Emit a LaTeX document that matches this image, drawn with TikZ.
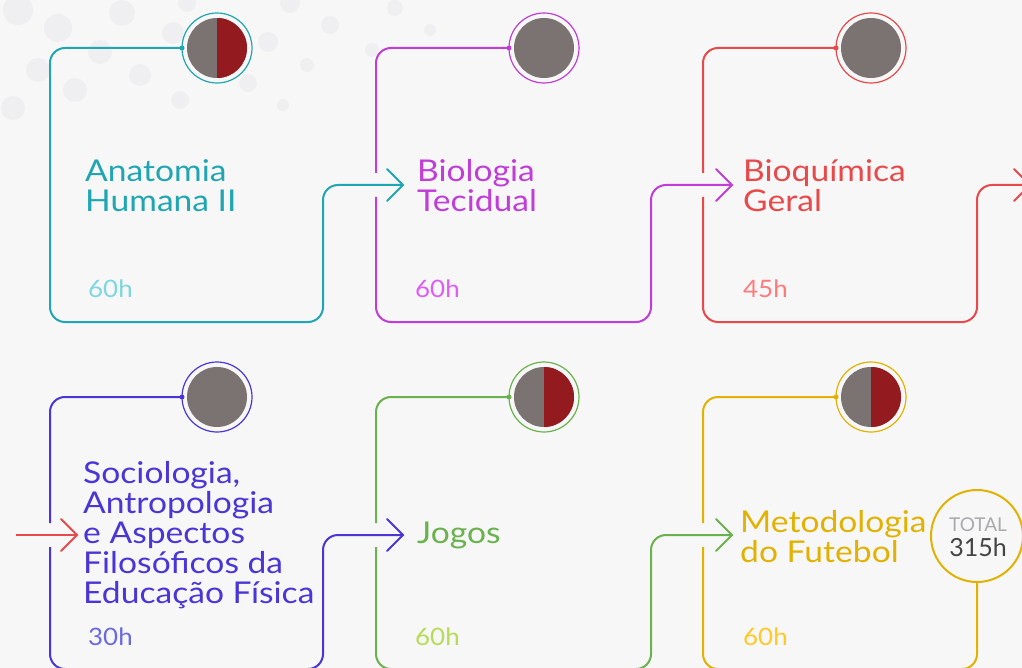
\documentclass[tikz,border=0pt]{standalone}
\usepackage{fontspec}
\setmainfont{Lato}
\newfontfamily\widefont[FakeStretch=1.12]{Lato}
\newfontfamily\hfont[FakeStretch=1.08]{Lato}
\usetikzlibrary{calc}
\definecolor{bg}{HTML}{F7F7F7}
\definecolor{dotc}{HTML}{EFEFF1}
\definecolor{cteal}{HTML}{1FA6B2}
\definecolor{lteal}{HTML}{7ED6E0}
\definecolor{cmag}{HTML}{C13DD8}
\definecolor{lmag}{HTML}{DE5EF5}
\definecolor{cred}{HTML}{E8494B}
\definecolor{lred}{HTML}{FF7B7B}
\definecolor{cind}{HTML}{4A36D6}
\definecolor{lind}{HTML}{6B6BE0}
\definecolor{cgreen}{HTML}{6AB24E}
\definecolor{lgreen}{HTML}{B6DC55}
\definecolor{cgold}{HTML}{E2B203}
\definecolor{lgold}{HTML}{FFC926}
\definecolor{dgray}{HTML}{7B7372}
\definecolor{dred}{HTML}{931A1F}
\definecolor{totgray}{HTML}{AAAAAE}
\definecolor{totdark}{HTML}{444444}
\tikzset{
  conn/.style={line width=2pt, rounded corners=15pt},
  chev/.style={line width=2pt, line cap=round, line join=miter},
  ring/.style={circle, draw, line width=1.2pt, minimum size=70pt, inner sep=0pt, outer sep=0pt},
  title/.style={anchor=base west, inner sep=0pt, align=left, font=\widefont\fontsize{30}{30}\selectfont},
  hours/.style={anchor=base west, inner sep=0pt, font=\hfont\fontsize{24}{24}\selectfont},
  jdot/.style={circle, fill, inner sep=0pt, minimum size=5pt},
}
\newcommand{\fulldisk}[1]{\fill[dgray] (#1.center) circle (30pt);}
\newcommand{\halfdisk}[1]{\fill[dgray] (#1.center) circle (30pt);
  \fill[dred] ($(#1.center)+(0pt,-30pt)$) arc[start angle=-90, end angle=90, radius=30pt] -- cycle;}
\begin{document}
\begin{tikzpicture}[x=1pt,y=-1pt]
\useasboundingbox (0,0) rectangle (1022,668);
\fill[bg] (0,0) rectangle (1022,668);
% faint background dots
\foreach \px/\py/\r in {18/10/15, 58/28/14, 122/13/13, 38/70/12, 100/52/12, 75/90/12, 140/75/11, 13/108/12, 173/33/11, 180/100/9, 248/83/9, 268/42/10, 307/65/7, 283/105/6, 330/25/9, 290/3/10, 187/3/9, 395/8/8, 430/30/6, 372/50/7}
  \fill[dotc] (\px,\py) circle (\r pt);

% circles
\node[ring, draw=cteal] (c1) at (217,48) {};
\node[ring, draw=cmag] (c2) at (544,48) {};
\node[ring, draw=cred] (c3) at (871,48) {};
\node[ring, draw=cind] (c4) at (217,397) {};
\node[ring, draw=cgreen] (c5) at (544,397) {};
\node[ring, draw=cgold] (c6) at (871,397) {};
\halfdisk{c1}
\fulldisk{c2}
\fulldisk{c3}
\fulldisk{c4}
\halfdisk{c5}
\halfdisk{c6}
\node[jdot, cteal] at (c1.west) {};
\node[jdot, cmag] at (c2.west) {};
\node[jdot, cred] at (c3.west) {};
\node[jdot, cind] at (c4.west) {};
\node[jdot, cgreen] at (c5.west) {};
\node[jdot, cgold] at (c6.west) {};

% total
\node[circle, draw=cgold, line width=2pt, minimum size=92pt, inner sep=0pt, outer sep=0pt] (tot) at (977,536) {};
\node[inner sep=0pt, anchor=base, font=\fontsize{19}{19}\selectfont, text=totgray] (totl) at (978,531) {TOTAL};
\node[inner sep=0pt, anchor=base, font=\fontsize{25}{25}\selectfont, text=totdark] (totn) at (978,556) {315h};

% arrow tips
\coordinate (t12) at (403,185);
\coordinate (t23) at (732,185);
\coordinate (t3x) at (1030,185);
\coordinate (s4) at (16,535);
\coordinate (t4) at (77,535);
\coordinate (t45) at (403,535);
\coordinate (t56) at (732,535);

% box 1
\draw[conn, cteal] (c1.west) -- (50,48) -- (50,322) -- (323,322) -- (323,185) -- (t12);
\draw[chev, cteal] ($(t12)+(-16,-16)$) -- (t12) -- ($(t12)+(-16,16)$);
% box 2
\draw[conn, cmag] (c2.west) -- (376,48) -- (376,173);
\draw[conn, cmag] (376,197) -- (376,322) -- (651,322) -- (651,185) -- (t23);
\draw[chev, cmag] ($(t23)+(-16,-16)$) -- (t23) -- ($(t23)+(-16,16)$);
% box 3
\draw[conn, cred] (c3.west) -- (703,48) -- (703,173);
\draw[conn, cred] (703,197) -- (703,322) -- (977,322) -- (977,185) -- (t3x);
\draw[chev, cred] ($(t3x)+(-16,-16)$) -- (t3x) -- ($(t3x)+(-16,16)$);
% incoming red arrow to box 4
\draw[line width=2pt, cred] (s4) -- (t4);
\draw[chev, cred] ($(t4)+(-16,-16)$) -- (t4) -- ($(t4)+(-16,16)$);
% box 4
\draw[conn, cind] (c4.west) -- (50,397) -- (50,523);
\draw[conn, cind] (50,547) -- (50,669) -- (323,669) -- (323,535) -- (t45);
\draw[chev, cind] ($(t45)+(-16,-16)$) -- (t45) -- ($(t45)+(-16,16)$);
% box 5
\draw[conn, cgreen] (c5.west) -- (376,397) -- (376,523);
\draw[conn, cgreen] (376,547) -- (376,669) -- (651,669) -- (651,535) -- (t56);
\draw[chev, cgreen] ($(t56)+(-16,-16)$) -- (t56) -- ($(t56)+(-16,16)$);
% box 6
\draw[conn, cgold] (c6.west) -- (703,397) -- (703,523);
\draw[conn, cgold] (703,547) -- (703,669) -- (977,669) -- (tot.south);

% titles (anchored at last line's baseline)
\node[title, text=cteal] (n1) at (85,212) {Anatomia\\Humana II};
\node[title, text=cmag] (n2) at (417,212) {Biologia\\Tecidual};
\node[title, text=cred] (n3) at (743,212) {Bioquímica\\Geral};
\node[title, text=cind] (n4) at (83,603) {Sociologia,\\Antropologia\\e Aspectos\\Filosóficos da\\Educação Física};
\node[title, text=cgreen] (n5) at (417,543) {Jogos};
\node[title, text=cgold] (n6) at (740,562) {Metodologia\\do Futebol};

% hours
\node[hours, text=lteal] (h1) at (88,297) {60h};
\node[hours, text=lmag] (h2) at (415,297) {60h};
\node[hours, text=lred] (h3) at (743,297) {45h};
\node[hours, text=lind] (h4) at (88,645) {30h};
\node[hours, text=lgreen] (h5) at (415,645) {60h};
\node[hours, text=lgold] (h6) at (743,645) {60h};
\end{tikzpicture}
\end{document}
